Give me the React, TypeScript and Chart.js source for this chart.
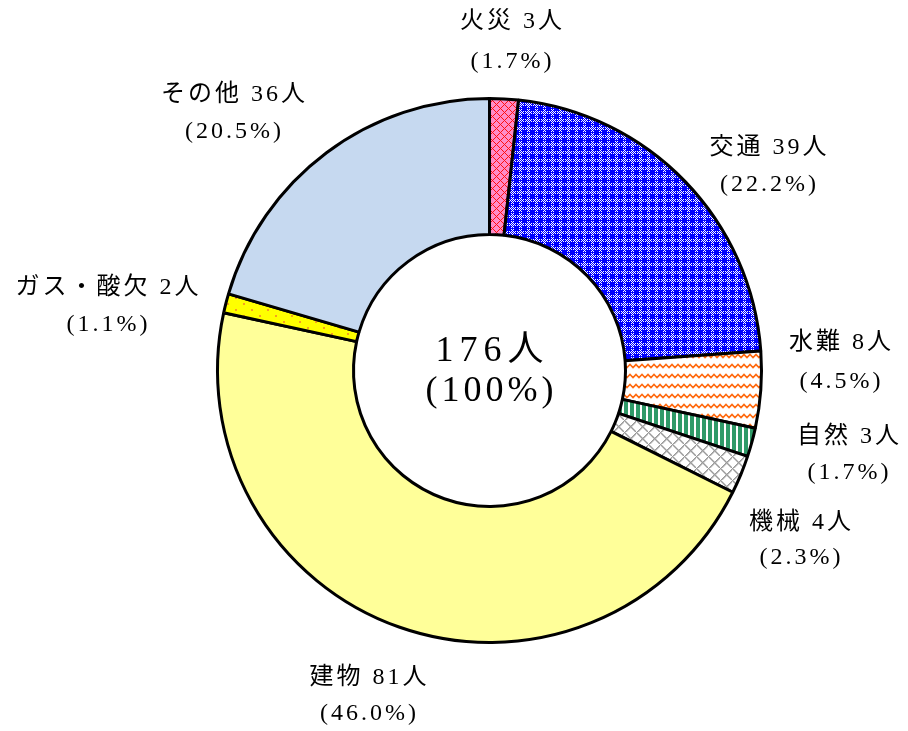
import React, { useEffect, useRef } from "react";
import { Chart, registerables } from "chart.js";

Chart.register(...registerables);

const categories = ["火災", "交通", "水難", "自然", "機械", "建物", "ガス・酸欠", "その他"];
const counts = [3, 39, 8, 3, 4, 81, 2, 36];
const percents = ["1.7", "22.2", "4.5", "1.7", "2.3", "46.0", "1.1", "20.5"];
const totalLabel = "176人";
const totalPercent = "(100%)";

// label anchor positions (layout only)
const labelPos: [number, number][] = [
  [511, 22],
  [768, 148],
  [840, 343],
  [848, 437],
  [800, 523],
  [368, 678],
  [107, 288],
  [233, 95],
];
const labelGap = [40, 37, 39, 36, 35, 36, 37, 37];

function makePattern(w: number, h: number, draw: (c: CanvasRenderingContext2D) => void) {
  const cv = document.createElement("canvas");
  cv.width = w;
  cv.height = h;
  const ctx = cv.getContext("2d")!;
  draw(ctx);
  return ctx.createPattern(cv, "repeat")!;
}

function buildPatterns() {
  const fire = makePattern(8, 8, (c) => {
    c.fillStyle = "#FF8CC8";
    c.fillRect(0, 0, 8, 8);
    c.fillStyle = "#FF1010";
    for (let x = 0; x < 8; x++)
      for (let y = 0; y < 8; y++) {
        if ((x + y) % 8 === 0 || (((x - y) % 8) + 8) % 8 === 0) c.fillRect(x, y, 1, 1);
      }
  });
  const traffic = makePattern(8, 8, (c) => {
    c.fillStyle = "#0000FF";
    c.fillRect(0, 0, 8, 8);
    c.fillStyle = "#FFFFFF";
    for (let x = 0; x < 8; x++)
      for (let y = 0; y < 8; y++) {
        const inCross = (x >= 3 && x <= 5 && y >= 3 && y <= 5);
        if (x % 2 === 1 && y % 2 === 1 && !inCross) c.fillRect(x, y, 1, 1);
        if ((x === 0 && y % 2 === 0 && y !== 4) || (y === 0 && x % 2 === 0 && x !== 4)) c.fillRect(x, y, 1, 1);
      }
  });
  const water = makePattern(12, 10, (c) => {
    c.fillStyle = "#FFFFFF";
    c.fillRect(0, 0, 12, 10);
    c.strokeStyle = "#FF6A10";
    c.lineWidth = 1.6;
    c.beginPath();
    c.moveTo(-3, 7.5);
    c.lineTo(0, 4.5);
    c.lineTo(3, 7.5);
    c.lineTo(6, 4.5);
    c.lineTo(9, 7.5);
    c.lineTo(12, 4.5);
    c.lineTo(15, 7.5);
    c.stroke();
  });
  const nature = makePattern(6, 2, (c) => {
    c.fillStyle = "#FFFFFF";
    c.fillRect(0, 0, 6, 2);
    c.fillStyle = "#2F9A68";
    c.fillRect(0, 0, 4, 2);
  });
  const machine = makePattern(12, 12, (c) => {
    c.fillStyle = "#FFFFFF";
    c.fillRect(0, 0, 12, 12);
    c.fillStyle = "#9A9A9A";
    for (let x = 0; x < 12; x++)
      for (let y = 0; y < 12; y++) {
        if ((x + y) % 12 === 0 || (((x - y) % 12) + 12) % 12 === 0) c.fillRect(x, y, 1.5, 1.5);
      }
  });
  const building = "#FFFF99";
  const gas = makePattern(16, 12, (c) => {
    c.fillStyle = "#FFFF00";
    c.fillRect(0, 0, 16, 12);
    c.fillStyle = "#F5A020";
    c.fillRect(3, 3, 2, 2);
    c.fillRect(11, 9, 2, 2);
  });
  const other = "#C6D9F0";
  return [fire, traffic, water, nature, machine, building, gas, other];
}

const FONT = '"Liberation Serif", "Noto Sans CJK JP", serif';

function spacedText(ctx: CanvasRenderingContext2D, text: string, x: number, y: number, sp: number) {
  (ctx as any).letterSpacing = sp + "px";
  ctx.fillText(text, x + sp / 2, y);
}

const labelPlugin = {
  id: "labelPlugin",
  afterDraw(chart: any) {
    const ctx: CanvasRenderingContext2D = chart.ctx;
    ctx.save();
    ctx.fillStyle = "#000";
    ctx.textAlign = "center";
    ctx.textBaseline = "middle";
    ctx.font = "24px " + FONT;
    categories.forEach((cat, i) => {
      const [x, y] = labelPos[i];
      spacedText(ctx, `${cat} ${counts[i]}人`, x, y, 3);
      spacedText(ctx, `(${percents[i]}%)`, x, y + labelGap[i], 3);
    });
    const meta = chart.getDatasetMeta(0);
    const arc = meta.data[0];
    const cx = arc.x;
    const cy = arc.y;
    ctx.font = "36px " + FONT;
    spacedText(ctx, totalLabel, cx, cy - 19, 6);
    spacedText(ctx, totalPercent, cx, cy + 21, 4);
    ctx.restore();
  },
};

export default function App() {
  const ref = useRef<HTMLCanvasElement>(null);
  useEffect(() => {
    const canvas = ref.current!;
    const chart = new Chart(canvas, {
      type: "doughnut",
      data: {
        labels: categories,
        datasets: [
          {
            data: counts,
            backgroundColor: buildPatterns() as any,
            borderColor: "#000000",
            borderWidth: 3,
          },
        ],
      },
      options: {
        responsive: false,
        animation: false,
        cutout: "50%",
        layout: { padding: { left: 216, right: 145, top: 97, bottom: 87 } },
        plugins: { legend: { display: false }, tooltip: { enabled: false } },
      },
      plugins: [labelPlugin],
    });
    return () => chart.destroy();
  }, []);
  return (
    <div style={{ position: "fixed", left: 0, top: 0, width: 908, height: 731, background: "#fff" }}>
      <canvas ref={ref} width={908} height={731} />
    </div>
  );
}
